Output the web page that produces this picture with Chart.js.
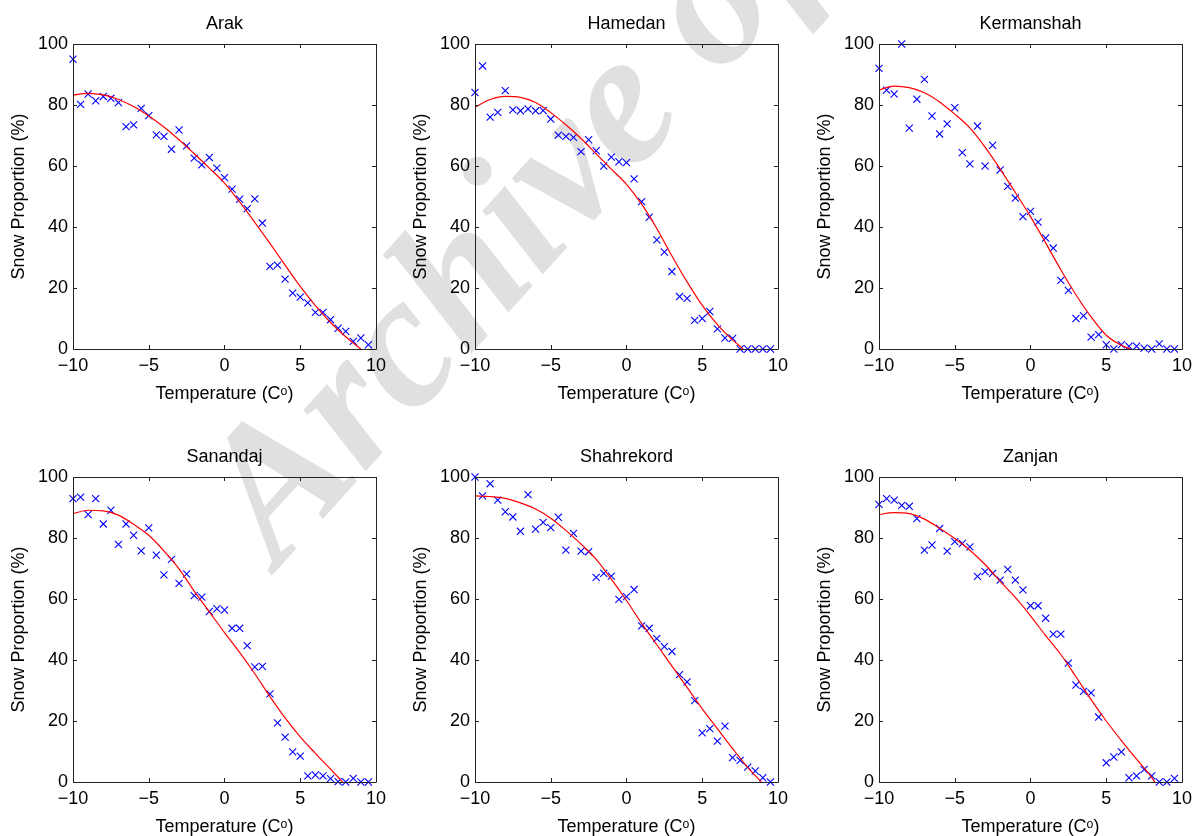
<!DOCTYPE html>
<html>
<head>
<meta charset="utf-8">
<title>Snow Proportion vs Temperature</title>
<script src="https://cdn.jsdelivr.net/npm/chart.js@4.4.1/dist/chart.umd.min.js"></script>
<style>
    html, body { margin: 0; padding: 0; background: #fff; overflow: hidden; width: 1196px; height: 836px; }
    #wrap { position: relative; width: 1196px; height: 836px; }
    .panel { position: absolute; z-index: 2; }
    #watermark {
        position: absolute; z-index: 1; left: 160px; top: 462px;
        font: italic bold 190px "Liberation Serif", "DejaVu Serif", serif;
        color: #e0e0e0; white-space: nowrap; line-height: 1;
        transform-origin: 0 0; transform: rotate(-48deg);
    }
</style>
</head>
<body>
<div id="wrap">
    <div id="watermark">Archive of SID</div>
    <canvas id="c_arak" class="panel"></canvas>
    <canvas id="c_hamedan" class="panel"></canvas>
    <canvas id="c_kermanshah" class="panel"></canvas>
    <canvas id="c_sanandaj" class="panel"></canvas>
    <canvas id="c_shahrekord" class="panel"></canvas>
    <canvas id="c_zanjan" class="panel"></canvas>
</div>
<script>
// ---- data ----
var temperature = [-10, -9.5, -9, -8.5, -8, -7.5, -7, -6.5, -6, -5.5, -5, -4.5, -4, -3.5, -3, -2.5, -2, -1.5, -1, -0.5,
                   0, 0.5, 1, 1.5, 2, 2.5, 3, 3.5, 4, 4.5, 5, 5.5, 6, 6.5, 7, 7.5, 8, 8.5, 9, 9.5];

var arakSnow       = [95, 80.2, 83.6, 81.4, 82.8, 82.2, 80.8, 72.9, 73.5, 78.9, 76.5, 70.2, 69.7, 65.5, 71.8, 66.6, 62.6, 60.4, 62.8, 59.3,
                      56.2, 52.4, 49.1, 46, 49.2, 41.3, 27.1, 27.5, 22.9, 18.3, 17, 15.1, 12, 12, 9.6, 6.8, 5.8, 2.5, 3.6, 1.4];
var hamedanSnow    = [84.1, 92.8, 76, 77.6, 84.7, 78.4, 78.1, 78.7, 78.1, 78.2, 75.4, 70.1, 69.7, 69.4, 64.7, 68.6, 65, 60, 62.9, 61.4,
                      61.1, 55.8, 48.3, 43.2, 35.8, 31.8, 25.4, 17.2, 16.6, 9.4, 10, 12.3, 6.6, 3.6, 3.5, 0, 0, 0, 0, 0];
var kermanshahSnow = [92, 84.9, 83.6, 100, 72.4, 81.9, 88.4, 76.4, 70.5, 73.8, 79.1, 64.4, 60.7, 73.1, 60, 66.8, 58.7, 53.3, 49.5, 43.4,
                      45.1, 41.6, 36.4, 33.1, 22.5, 19.2, 10, 10.9, 3.9, 4.7, 1.4, 0, 1.4, 0.9, 0.9, 0.3, 0, 1.7, 0, 0];
var sanandajSnow   = [92.9, 93.4, 87.7, 92.9, 84.6, 89.1, 77.9, 84.6, 80.9, 75.8, 83.3, 74.4, 67.9, 73, 65.1, 68.2, 61.1, 60.6, 55.9, 56.8,
                      56.4, 50.4, 50.4, 44.7, 37.7, 37.9, 28.9, 19.4, 14.7, 9.9, 8.5, 2, 2.3, 2, 1.1, 0.1, 0, 1.2, 0, 0];
var shahrekordSnow = [100, 93.8, 97.8, 92.4, 88.6, 86.9, 82.2, 94.2, 82.9, 85.1, 83.4, 86.8, 76, 81.5, 75.7, 75.5, 67.1, 68.4, 67.5, 59.9,
                      60.8, 63.1, 51.2, 50.4, 47, 44.4, 42.8, 35.2, 32.8, 26.7, 16.1, 17.5, 13.4, 18.3, 8, 7.1, 4.9, 3.6, 1.4, 0];
var zanjanSnow     = [91, 92.9, 92.4, 90.7, 90.4, 86.4, 76, 77.7, 83.1, 75.7, 78.8, 78.2, 77.1, 67.4, 69, 68.4, 66.2, 69.7, 66.2, 63,
                      57.8, 57.8, 53.7, 48.5, 48.5, 39, 31.8, 29.7, 29.2, 21.3, 6.3, 8.2, 9.9, 1.4, 2, 4.1, 2, 0, 0, 1.2];

// fitted curves (red)
var arakFitT        = [-10, -9, -8, -7, -6, -5, -4, -3, -2, -1, 0, 1, 2, 3, 4, 5, 6, 7, 8, 9];
var arakFitSnow     = [83.3, 83.8, 83.3, 81.8, 79.5, 76.4, 72.8, 68.6, 64, 59.3, 54.4, 48.2, 41.5, 34.6, 27.5, 20.5, 14.2, 8.7, 4, 0];
var hamedanFitT     = [-10, -9, -8, -7, -6, -5, -4, -3, -2, -1, 0, 1, 2, 3, 4, 5, 6, 7, 7.7];
var hamedanFitSnow  = [79.3, 81.8, 82.8, 82.5, 80.8, 77.5, 73.5, 69, 64, 59, 54, 47.5, 39.5, 30.5, 22, 14.3, 8, 3, 0];
var kermanshahFitT    = [-10, -9, -8, -7, -6, -5, -4, -3, -2, -1, 0, 1, 2, 3, 4, 5, 6, 6.6];
var kermanshahFitSnow = [84.9, 86.2, 85.7, 84, 81, 77, 72.5, 66.2, 59, 51.3, 43.4, 34.8, 26, 17.8, 10.5, 4.5, 1.2, 0];
var sanandajFitT    = [-10, -9, -8, -7, -6, -5, -4, -3, -2, -1, 0, 1, 2, 3, 4, 5, 6, 7, 7.8];
var sanandajFitSnow = [88, 89.1, 88.9, 87.5, 84.5, 80.9, 75.8, 69.9, 62.6, 55.8, 49, 42.5, 35.5, 28, 21, 14.8, 9.4, 4.2, 0];
var shahrekordFitT    = [-10, -9, -8, -7, -6, -5, -4, -3, -2, -1, 0, 1, 2, 3, 4, 5, 6, 7, 8, 8.9];
var shahrekordFitSnow = [93.8, 93.6, 93, 91.5, 89.5, 86.5, 82.5, 78, 73, 66.5, 59.5, 52, 45, 38, 31, 24, 17.5, 11, 4.8, 0];
var zanjanFitT      = [-10, -9, -8, -7, -6, -5, -4, -3, -2, -1, 0, 1, 2, 3, 4, 5, 6, 7, 8, 8.2];
var zanjanFitSnow   = [87.7, 88.3, 88, 86.2, 83.2, 79.8, 76, 71.3, 65.8, 60.5, 54.5, 48, 41.8, 34.5, 27, 20, 13.6, 7.5, 1.5, 0];

var xTicks = [-10, -5, 0, 5, 10];
var yTicks = [0, 20, 40, 60, 80, 100];

// ---- layout (pixel positions of each plot box) ----
var plotLeft = [73, 475, 879];
var plotTop = [44, 477];
var plotW = 305, plotH = 305;
var axisW = 72, titleH = 44, rightPad = 14, bottomH = 60;
var fontSize = 18;

var FONT = '"Liberation Sans", Arial, Helvetica, sans-serif';
Chart.defaults.font.family = FONT;
Chart.defaults.color = '#000';

function fmtTick(v) {
    return v < 0 ? '\u2212' + Math.abs(v) : String(v);
}

// matlab style box with inward ticks on all four sides
var matlabBox = {
    id: 'matlabBox',
    afterDatasetsDraw: function (chart) {
        var a = chart.chartArea, ctx = chart.ctx;
        var xs = chart.scales.x, ys = chart.scales.y;
        var tl = 4;
        ctx.save();
        ctx.strokeStyle = '#222';
        ctx.lineWidth = 1;
        ctx.beginPath();
        ctx.rect(a.left + 0.5, a.top + 0.5, a.right - a.left, a.bottom - a.top);
        xTicks.forEach(function (v) {
            var px = Math.round(xs.getPixelForValue(v)) + 0.5;
            ctx.moveTo(px, a.bottom); ctx.lineTo(px, a.bottom - tl);
            ctx.moveTo(px, a.top); ctx.lineTo(px, a.top + tl);
        });
        yTicks.forEach(function (v) {
            var py = Math.round(ys.getPixelForValue(v)) + 0.5;
            ctx.moveTo(a.left, py); ctx.lineTo(a.left + tl, py);
            ctx.moveTo(a.right, py); ctx.lineTo(a.right - tl, py);
        });
        ctx.stroke();
        ctx.restore();
    }
};

// tiny helper, index first like $.each
function $each(arr, fn) { for (var i = 0; i < arr.length; i++) fn(i, arr[i]); }

function makePanel(id, col, row, name, snow, fitT, fitSnow) {
    var cv = document.getElementById(id);
    cv.width = axisW + plotW + rightPad;
    cv.height = titleH + plotH + bottomH;
    cv.style.left = (plotLeft[col] - axisW) + 'px';
    cv.style.top = (plotTop[row] - titleH) + 'px';

    var points = [];
    $each(temperature, function (i, t) { points.push({ x: t, y: snow[i] }); });
    var fit = [];
    $each(fitT, function (i, t) { fit.push({ x: t, y: fitSnow[i] }); });

    return new Chart(cv, {
        type: 'scatter',
        data: {
            datasets: [
                {
                    type: 'line',
                    data: fit,
                    borderColor: '#ff0000',
                    borderWidth: 1.2,
                    pointRadius: 0,
                    fill: false,
                    tension: 0.4,
                    cubicInterpolationMode: 'monotone'
                },
                {
                    data: points,
                    pointStyle: 'crossRot',
                    pointRadius: 5,
                    borderColor: '#0000ff',
                    backgroundColor: '#0000ff',
                    borderWidth: 1.1,
                    clip: false
                }
            ]
        },
        options: {
            responsive: false,
            animation: false,
            events: [],
            layout: { padding: { left: 0, right: rightPad, top: 0, bottom: 0 } },
            plugins: {
                legend: { display: false },
                tooltip: { enabled: false },
                title: {
                    display: true,
                    text: name,
                    fullSize: false,
                    color: '#000',
                    font: { size: fontSize, weight: 'normal' },
                    padding: { top: 13.6, bottom: 8.8 }
                }
            },
            scales: {
                x: {
                    type: 'linear',
                    min: -10, max: 10,
                    afterBuildTicks: function (s) { s.ticks = xTicks.map(function (v) { return { value: v }; }); },
                    afterFit: function (s) { s.height = bottomH; },
                    grid: { display: false, drawTicks: false },
                    border: { display: false },
                    ticks: { font: { size: fontSize }, padding: 6, maxRotation: 0, callback: fmtTick },
                    title: { display: true, text: 'Temperature (C\u1D52)', font: { size: fontSize }, padding: { top: 0, bottom: 4.5 } }
                },
                y: {
                    type: 'linear',
                    min: 0, max: 100,
                    afterBuildTicks: function (s) { s.ticks = yTicks.map(function (v) { return { value: v }; }); },
                    afterFit: function (s) { s.width = axisW; },
                    grid: { display: false, drawTicks: false },
                    border: { display: false },
                    ticks: { font: { size: fontSize }, padding: 5, callback: fmtTick },
                    title: { display: true, text: 'Snow Proportion (%)', font: { size: fontSize }, padding: { top: 7.5, bottom: 0 } }
                }
            }
        },
        plugins: [matlabBox]
    });
}

makePanel('c_arak', 0, 0, 'Arak', arakSnow, arakFitT, arakFitSnow);
makePanel('c_hamedan', 1, 0, 'Hamedan', hamedanSnow, hamedanFitT, hamedanFitSnow);
makePanel('c_kermanshah', 2, 0, 'Kermanshah', kermanshahSnow, kermanshahFitT, kermanshahFitSnow);
makePanel('c_sanandaj', 0, 1, 'Sanandaj', sanandajSnow, sanandajFitT, sanandajFitSnow);
makePanel('c_shahrekord', 1, 1, 'Shahrekord', shahrekordSnow, shahrekordFitT, shahrekordFitSnow);
makePanel('c_zanjan', 2, 1, 'Zanjan', zanjanSnow, zanjanFitT, zanjanFitSnow);
</script>
</body>
</html>
